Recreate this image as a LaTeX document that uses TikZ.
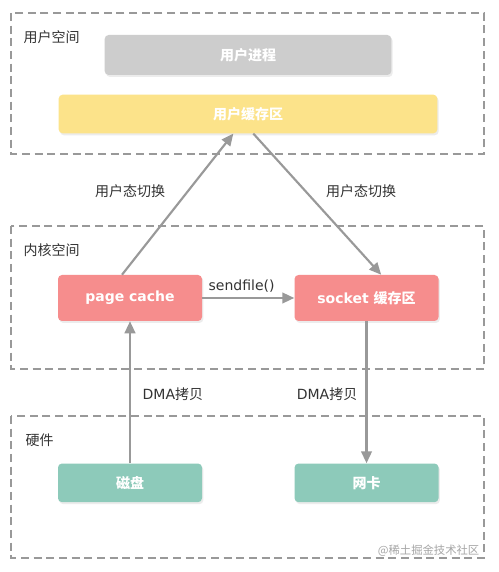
\documentclass[tikz,border=0pt]{standalone}
\usepackage{fontspec}
\setmainfont{DejaVu Sans}
\newfontfamily\cjk{Noto Sans CJK SC}
\usetikzlibrary{positioning,calc,arrows.meta,shadows}

\definecolor{procgray}{HTML}{CDCDCD}
\definecolor{bufyellow}{HTML}{FCE38A}
\definecolor{cachered}{HTML}{F68D8D}
\definecolor{diskgreen}{HTML}{8DCABA}
\definecolor{linegray}{HTML}{999999}
\definecolor{textgray}{HTML}{333333}

\begin{document}
\begin{tikzpicture}[
            x=0.75pt, y=0.75pt,
            area/.style={draw=linegray, dash pattern=on 6pt off 3.5pt, line width=1.6pt},
            box/.style={rectangle, rounded corners=3pt, align=center, text=white, inner sep=0pt,
                font=\bfseries\fontsize{10.5}{12}\selectfont,
                drop shadow={shadow xshift=1pt, shadow yshift=-1.5pt, opacity=0.15}},
            link/.style={draw=linegray, line width=1.6pt, -{Triangle[length=9pt,width=8pt]}},
            lbl/.style={font=\fontsize{10.5}{12}\selectfont, text=textgray}
        ]
        \useasboundingbox[fill=white] (0,0) rectangle (499,572);

        % three layers
        \draw[area] (11,559) rectangle (484,418);
        \draw[area] (11,346) rectangle (484,203);
        \draw[area] (11,156) rectangle (484,14);

        \node[lbl, anchor=west] (L1) at (19,535) {\cjk 用户空间};
        \node[lbl, anchor=west] (L2) at (19,322) {\cjk 内核空间};
        \node[lbl, anchor=west] (L3) at (21,132) {\cjk 硬件};

        \node[box, fill=procgray, minimum width=215pt, minimum height=30pt] (U) at (248,517) {\cjk 用户进程};
        \node[box, fill=bufyellow, minimum width=284pt, minimum height=29pt] (B) at (248,458) {\cjk 用户缓存区};

        \node[box, fill=cachered, minimum width=108pt, minimum height=34.5pt] (P) at (130,274) {page cache};
        \node[box, fill=cachered, minimum width=108pt, minimum height=34.5pt, right=69pt of P] (S) {socket {\cjk 缓存区}};

        \node[box, fill=diskgreen, minimum width=108pt, minimum height=29pt, below=106.5pt of P] (D) {\cjk 磁盘};
        \node[box, fill=diskgreen, minimum width=108pt, minimum height=29pt, below=106.5pt of S] (N) {\cjk 网卡};

        \draw[link] ([xshift=-6pt]P.north) -- ([xshift=-11pt]B.south);
        \draw[link] ([xshift=4pt]B.south) -- ([xshift=11pt]S.north);
        \draw[link] (P) -- node[lbl, above, xshift=-5pt] {sendfile()} (S);
        \draw[link] (D) -- (P);
        \draw[link] (S) -- (N);

        \node[lbl] (T1) at (130,381) {\cjk 用户态切换};
        \node[lbl] (T2) at (361,381) {\cjk 用户态切换};
        \node[lbl, anchor=west] (M1) at (138,178) {DMA{\cjk 拷贝}};
        \node[lbl, anchor=east] (M2) at (362,178) {DMA{\cjk 拷贝}};

        \node[anchor=east, text=black!35, font=\fontsize{8.5}{10}\selectfont] (W) at (484,21) {\cjk @稀土掘金技术社区};
    \end{tikzpicture}
\end{document}
